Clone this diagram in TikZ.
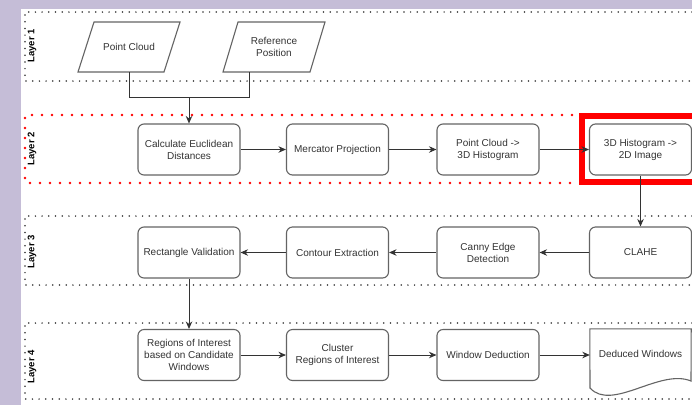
\documentclass[tikz,border=0pt]{standalone}
\usepackage{fontspec}
\setmainfont{Liberation Sans}
\usetikzlibrary{arrows.meta,calc}
\definecolor{bgpurple}{RGB}{197,189,215}
\definecolor{txt}{RGB}{51,51,51}
\definecolor{edgec}{RGB}{100,100,100}
\definecolor{linec}{RGB}{51,51,51}
\tikzset{
  proc/.style={draw=edgec, line width=1.1pt, rounded corners=6pt, fill=white,
    minimum width=102pt, minimum height=51pt, align=center,
    font=\fontsize{10}{12}\selectfont, text=txt, inner sep=0pt},
  plain/.style={align=center, font=\fontsize{10}{12}\selectfont, text=txt, inner sep=0pt},
  shapeline/.style={draw=edgec, line width=1.1pt},
  conn/.style={draw=linec, line width=0.9pt},
  flow/.style={conn, -{Stealth[length=7.5pt,width=6.5pt]}},
  band/.style={draw=black!80, line width=1.7pt, dash pattern=on 0pt off 6.7pt, line cap=round},
  redband/.style={draw=red, line width=2.6pt, dash pattern=on 0pt off 10pt, line cap=round},
  lay/.style={rotate=90, font=\fontsize{9.5}{12}\selectfont\bfseries, text=black, inner sep=0pt},
}
\begin{document}
\begin{tikzpicture}[x=1pt,y=-1pt]
\useasboundingbox (0,0) rectangle (692,405);
\fill[bgpurple] (0,0) rectangle (692,405);
\fill[white] (21,9) rectangle (692,405);
\begin{scope}
\clip (0,0) rectangle (692,405);
% bands
\draw[band] (692,12) -- (25,12) -- (25,81) -- (692,81);
\draw[redband] (572,115) -- (25,115) -- (25,183) -- (572,183);
\draw[band] (692,216) -- (25,216) -- (25,285) -- (692,285);
\draw[band] (692,323) -- (25,323) -- (25,399) -- (692,399);
% layer labels
\node[lay] (l1) at (32,46) {Layer 1};
\node[lay] (l2) at (32,149) {Layer 2};
\node[lay] (l3) at (32,252) {Layer 3};
\node[lay] (l4) at (32,367) {Layer 4};
% layer 1 inputs
\node[plain] (pc) at (129,47) {Point Cloud};
\draw[shapeline] ($(pc)+(-35,-25)$) -- ($(pc)+(51,-25)$) -- ($(pc)+(35,25)$) -- ($(pc)+(-51,25)$) -- cycle;
\node[plain] (ref) at (274,47) {Reference\\Position};
\draw[shapeline] ($(ref)+(-36,-25)$) -- ($(ref)+(51,-25)$) -- ($(ref)+(36,25)$) -- ($(ref)+(-51,25)$) -- cycle;
\coordinate (pcb) at ($(pc)+(0,25)$);
\coordinate (refb) at ($(ref)+(-25,25)$);
\coordinate (j) at (189,97.5);
% layer 2
\node[proc] (n1) at (189,149.5) {Calculate Euclidean\\Distances};
\node[proc] (n2) at (337.5,149.5) {Mercator Projection};
\node[proc] (n3) at (488,149.5) {Point Cloud ->\\3D Histogram};
\node[proc] (n4) at (640.5,149.5) {3D Histogram ->\\2D Image};
% layer 3
\node[proc] (m1) at (189,252.5) {Rectangle Validation};
\node[proc] (m2) at (337.5,252.5) {Contour Extraction};
\node[proc] (m3) at (488,252.5) {Canny Edge\\Detection};
\node[proc] (m4) at (640.5,252.5) {CLAHE};
% layer 4
\node[proc] (r1) at (189,355) {Regions of Interest\\based on Candidate\\Windows};
\node[proc] (r2) at (337.5,355) {Cluster\\Regions of Interest};
\node[proc] (r3) at (488,355) {Window Deduction};
\node[plain, minimum width=101pt, minimum height=52pt] (r4) at (640.5,355) {\raisebox{2pt}{Deduced Windows}};
\draw[shapeline] (r4.north west) -- (r4.north east) -- (691,381)
   .. controls (660,368) and (612,412) .. (590,388) -- cycle;
% highlight box
\draw[red, line width=6pt] (700,116) -- (582,116) -- (582,181.5) -- (700,181.5);
% connectors
\draw[conn] (pcb) |- (j) -| (refb);
\draw[flow] (j) -- (n1.north);
\draw[flow] (n1) -- (n2);
\draw[flow] (n2) -- (n3);
\draw[flow] (n3) -- (n4);
\draw[flow] (n4) -- (m4);
\draw[flow] (m4) -- (m3);
\draw[flow] (m3) -- (m2);
\draw[flow] (m2) -- (m1);
\draw[flow] (m1) -- (r1);
\draw[flow] (r1) -- (r2);
\draw[flow] (r2) -- (r3);
\draw[flow] (r3) -- (r4.west);
\end{scope}
\end{tikzpicture}
\end{document}
